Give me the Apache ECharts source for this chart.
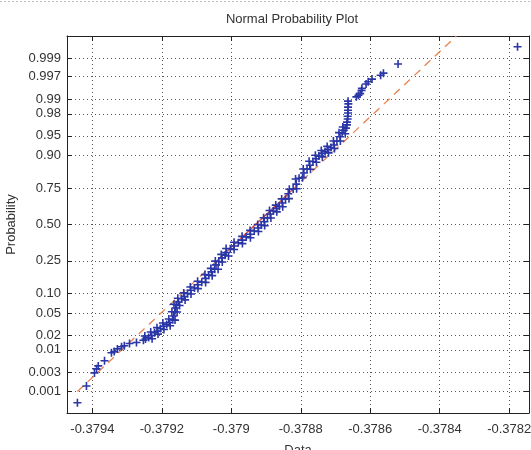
<!DOCTYPE html>
<html><head><meta charset="utf-8">
<script src="https://cdn.jsdelivr.net/npm/echarts@6/dist/echarts.min.js"></script>
<style>html,body{margin:0;padding:0;background:#fff}#c{width:531px;height:450px}</style>
</head><body><div id="c"></div><script>
// sorted data values
const dataX=[-0.379443,-0.379417,-0.379394,-0.379388,-0.379383,-0.379365,-0.379345,-0.379337,-0.379328,-0.379316,-0.379308,-0.379293,-0.379273,-0.379253,
-0.379247,-0.379238,-0.379230,-0.379221,-0.379212,-0.379204,-0.379195,-0.379186,-0.379178,-0.379169,
-0.379166,-0.379163,-0.379160,-0.379158,-0.379152,-0.379143,-0.379135,-0.379126,-0.379117,-0.379106,
-0.379097,-0.379085,-0.379074,-0.379065,-0.379057,-0.379048,-0.379044,-0.379036,-0.379027,-0.379018,
-0.379015,-0.379003,-0.378992,-0.378980,-0.378968,-0.378957,-0.378945,-0.378934,-0.378922,-0.378914,
-0.378905,-0.378896,-0.378888,-0.378879,-0.378870,-0.378862,-0.378853,-0.378844,-0.378836,-0.378822,
-0.378813,-0.378805,-0.378791,-0.378782,-0.378774,-0.378765,-0.378756,-0.378748,-0.378739,-0.378730,
-0.378722,-0.378713,-0.378704,-0.378696,-0.378687,-0.378681,-0.378676,-0.378670,
-0.378667,-0.378667,-0.378665,-0.378665,-0.378664,-0.378664,-0.378664,-0.378663,-0.378664,
-0.378640,-0.378634,-0.378629,-0.378625,-0.378624,-0.378612,-0.378606,-0.378595,-0.378570,-0.378562,-0.378520,-0.378176];
// normal quantile of each point (y position on the probability scale)
const dataZ=[-3.31,-3.00,-2.755,-2.68,-2.625,-2.53,-2.38,-2.36,-2.31,-2.27,-2.25,-2.21,-2.19,-2.15,
-2.125,-2.10,-2.06,-2.01,-1.98,-1.93,-1.89,-1.855,-1.82,-1.77,
-1.70,-1.62,-1.55,-1.49,-1.44,-1.38,-1.34,-1.28,-1.22,-1.18,
-1.12,-1.07,-1.00,-0.94,-0.88,-0.83,-0.75,-0.69,-0.62,-0.57,
-0.52,-0.45,-0.40,-0.34,-0.29,-0.23,-0.18,-0.12,-0.065,-0.01,
0.05,0.12,0.195,0.25,0.30,0.34,0.40,0.47,0.57,0.66,
0.75,0.86,0.955,1.03,1.10,1.17,1.22,1.27,1.32,1.35,
1.39,1.43,1.475,1.55,1.63,1.70,1.75,1.79,
1.85,1.90,1.96,2.01,2.07,2.12,2.18,2.24,2.29,
2.37,2.40,2.43,2.49,2.53,2.61,2.65,2.70,2.77,2.81,2.98,3.30];
// further overlapping points that make up the thick dense band
const bandX=[-0.379249,-0.379228,-0.379232,-0.379211,-0.379214,-0.379194,-0.379197,-0.379176,-0.379180,-0.379162,
-0.379171,-0.379156,-0.379165,-0.379149,-0.379154,-0.379133,-0.379137,-0.379116,-0.379118,-0.379096,
-0.379097,-0.379074,-0.379076,-0.379055,-0.379059,-0.379038,-0.379046,-0.379026,-0.379029,-0.379008,
-0.379015,-0.378992,-0.378992,-0.378968,-0.378969,-0.378945,-0.378946,-0.378922,-0.378924,-0.378904,
-0.378907,-0.378886,-0.378890,-0.378869,-0.378872,-0.378852,-0.378855,-0.378834,-0.378833,-0.378812,
-0.378815,-0.378795,-0.378793,-0.378772,-0.378776,-0.378755,-0.378758,-0.378738,-0.378741,-0.378720,
-0.378724,-0.378703,-0.378706,-0.378686,-0.378690,-0.378672,-0.378679];
const bandZ=[-2.07,-2.12,-1.995,-2.035,-1.915,-1.95,-1.83,-1.88,-1.755,-1.775,
-1.62,-1.625,-1.48,-1.505,-1.37,-1.40,-1.27,-1.29,-1.16,-1.19,
-1.055,-1.075,-0.93,-0.95,-0.815,-0.83,-0.68,-0.695,-0.555,-0.585,
-0.445,-0.465,-0.33,-0.355,-0.22,-0.245,-0.11,-0.13,0.0,-0.02,
0.125,0.12,0.26,0.235,0.36,0.33,0.475,0.48,0.655,0.665,
0.845,0.87,1.03,1.025,1.175,1.155,1.285,1.255,1.375,1.33,
1.45,1.41,1.55,1.55,1.705,1.685,1.81];
const probTicks=[0.001,0.003,0.01,0.02,0.05,0.10,0.25,0.50,0.75,0.90,0.95,0.98,0.99,0.997,0.999];
const probLabels=['0.001','0.003','0.01','0.02','0.05','0.10','0.25','0.50','0.75','0.90','0.95','0.98','0.99','0.997','0.999'];
const xTicks=[-0.3794,-0.3792,-0.379,-0.3788,-0.3786,-0.3784,-0.3782];
const xTickLabels=['-0.3794','-0.3792','-0.379','-0.3788','-0.3786','-0.3784','-0.3782'];
const refLineX=[-0.379443,-0.378352], refLineZ=[-3.10,3.50];
const quartLineX=[-0.379041,-0.378819], quartLineZ=[-0.674,0.674];

function probit(p){
 const a=[-3.969683028665376e+01,2.209460984245205e+02,-2.759285104469687e+02,1.383577518672690e+02,-3.066479806614716e+01,2.506628277459239e+00];
 const b=[-5.447609879822406e+01,1.615858368580409e+02,-1.556989798598866e+02,6.680131188771972e+01,-1.328068155288572e+01];
 const c=[-7.784894002430293e-03,-3.223964580411365e-01,-2.400758277161838e+00,-2.549732539343734e+00,4.374664141464968e+00,2.938163982698783e+00];
 const d=[7.784695709041462e-03,3.224671290700398e-01,2.445134137142996e+00,3.754408661907416e+00];
 const pl=0.02425, ph=1-pl; let q,r;
 if(p<pl){q=Math.sqrt(-2*Math.log(p));return (((((c[0]*q+c[1])*q+c[2])*q+c[3])*q+c[4])*q+c[5])/((((d[0]*q+d[1])*q+d[2])*q+d[3])*q+1);}
 if(p<=ph){q=p-0.5;r=q*q;return (((((a[0]*r+a[1])*r+a[2])*r+a[3])*r+a[4])*r+a[5])*q/(((((b[0]*r+b[1])*r+b[2])*r+b[3])*r+b[4])*r+1);}
 q=Math.sqrt(-2*Math.log(1-p));return -(((((c[0]*q+c[1])*q+c[2])*q+c[3])*q+c[4])*q+c[5])/((((d[0]*q+d[1])*q+d[2])*q+d[3])*q+1);
}
const yTicks=probTicks.map(probit);
function nearestLabel(v,vals,labels){let bi=0,bd=Infinity;vals.forEach((t,i)=>{const d=Math.abs(t-v);if(d<bd){bd=d;bi=i;}});return labels[bi];}

const FONT='Liberation Sans, Arial, sans-serif';
const XMIN=-0.379473, XMAX=-0.378143, YMIN=-3.5, YMAX=3.5;
const frame={show:true,onZero:false,lineStyle:{color:'#222',width:1}};
const tickStyle={color:'#222',width:1};
const gridLine={show:true,lineStyle:{color:'#555',width:1,type:[1,3]}};
const lbl={fontSize:13,color:'#333',fontFamily:FONT};
const plus='path://M0,5L10,5M5,0L5,10';
const markStyle={color:'none',borderColor:'#2a36a6',borderWidth:1.6,opacity:1};

const chart=echarts.init(document.getElementById('c'),null,{renderer:'canvas'});
chart.setOption({
 animation:false,
 backgroundColor:'#fff',
 grid:{left:67,top:36,width:462,height:377,containLabel:false,outerBoundsMode:'none'},
 graphic:[
  {type:'text',x:292,y:19,style:{text:'Normal Probability Plot',fontSize:13,fontFamily:FONT,fill:'#333',textAlign:'center',textVerticalAlign:'middle'}},
  {type:'line',shape:{x1:0,y1:1.5,x2:531,y2:1.5},style:{stroke:'#bbb',lineWidth:1,lineDash:[2,2]}}
 ],
 xAxis:[
  {type:'value',min:XMIN,max:XMAX,position:'bottom',axisLine:frame,
   axisTick:{show:true,inside:true,length:5,customValues:xTicks,lineStyle:tickStyle},
   axisLabel:Object.assign({customValues:xTicks,margin:10,formatter:v=>nearestLabel(v,xTicks,xTickLabels)},lbl),
   splitLine:gridLine,
   name:'Data',nameLocation:'middle',nameGap:31,nameTextStyle:lbl},
  {type:'value',min:XMIN,max:XMAX,position:'top',axisLine:frame,
   axisTick:{show:true,inside:true,length:5,customValues:xTicks,lineStyle:tickStyle},
   axisLabel:{show:false},splitLine:{show:false}}
 ],
 yAxis:[
  {type:'value',min:YMIN,max:YMAX,position:'left',axisLine:frame,
   axisTick:{show:true,inside:true,length:5,customValues:yTicks,lineStyle:tickStyle},
   axisLabel:Object.assign({customValues:yTicks,margin:6,formatter:v=>nearestLabel(v,yTicks,probLabels)},lbl),
   splitLine:gridLine,
   name:'Probability',nameLocation:'middle',nameGap:47,nameRotate:90,nameTextStyle:lbl},
  {type:'value',min:YMIN,max:YMAX,position:'right',axisLine:frame,
   axisTick:{show:true,inside:true,length:5,customValues:yTicks,lineStyle:tickStyle},
   axisLabel:{show:false},splitLine:{show:false}}
 ],
 series:[
  {type:'line',xAxisIndex:0,yAxisIndex:0,data:refLineX.map((x,i)=>[x,refLineZ[i]]),
   symbol:'none',lineStyle:{color:'#e8834f',width:1.3,type:[8,6]},z:2,clip:true},
  {type:'line',xAxisIndex:0,yAxisIndex:0,data:quartLineX.map((x,i)=>[x,quartLineZ[i]]),
   symbol:'none',lineStyle:{color:'#d9453a',width:1.2},z:2,clip:true},
  {type:'scatter',xAxisIndex:0,yAxisIndex:0,data:dataX.map((x,i)=>[x,dataZ[i]]),
   symbol:plus,symbolSize:8,itemStyle:markStyle,z:3},
  {type:'scatter',xAxisIndex:0,yAxisIndex:0,data:bandX.map((x,i)=>[x,bandZ[i]]),
   symbol:plus,symbolSize:8,itemStyle:markStyle,z:3}
 ]
});
</script></body></html>
